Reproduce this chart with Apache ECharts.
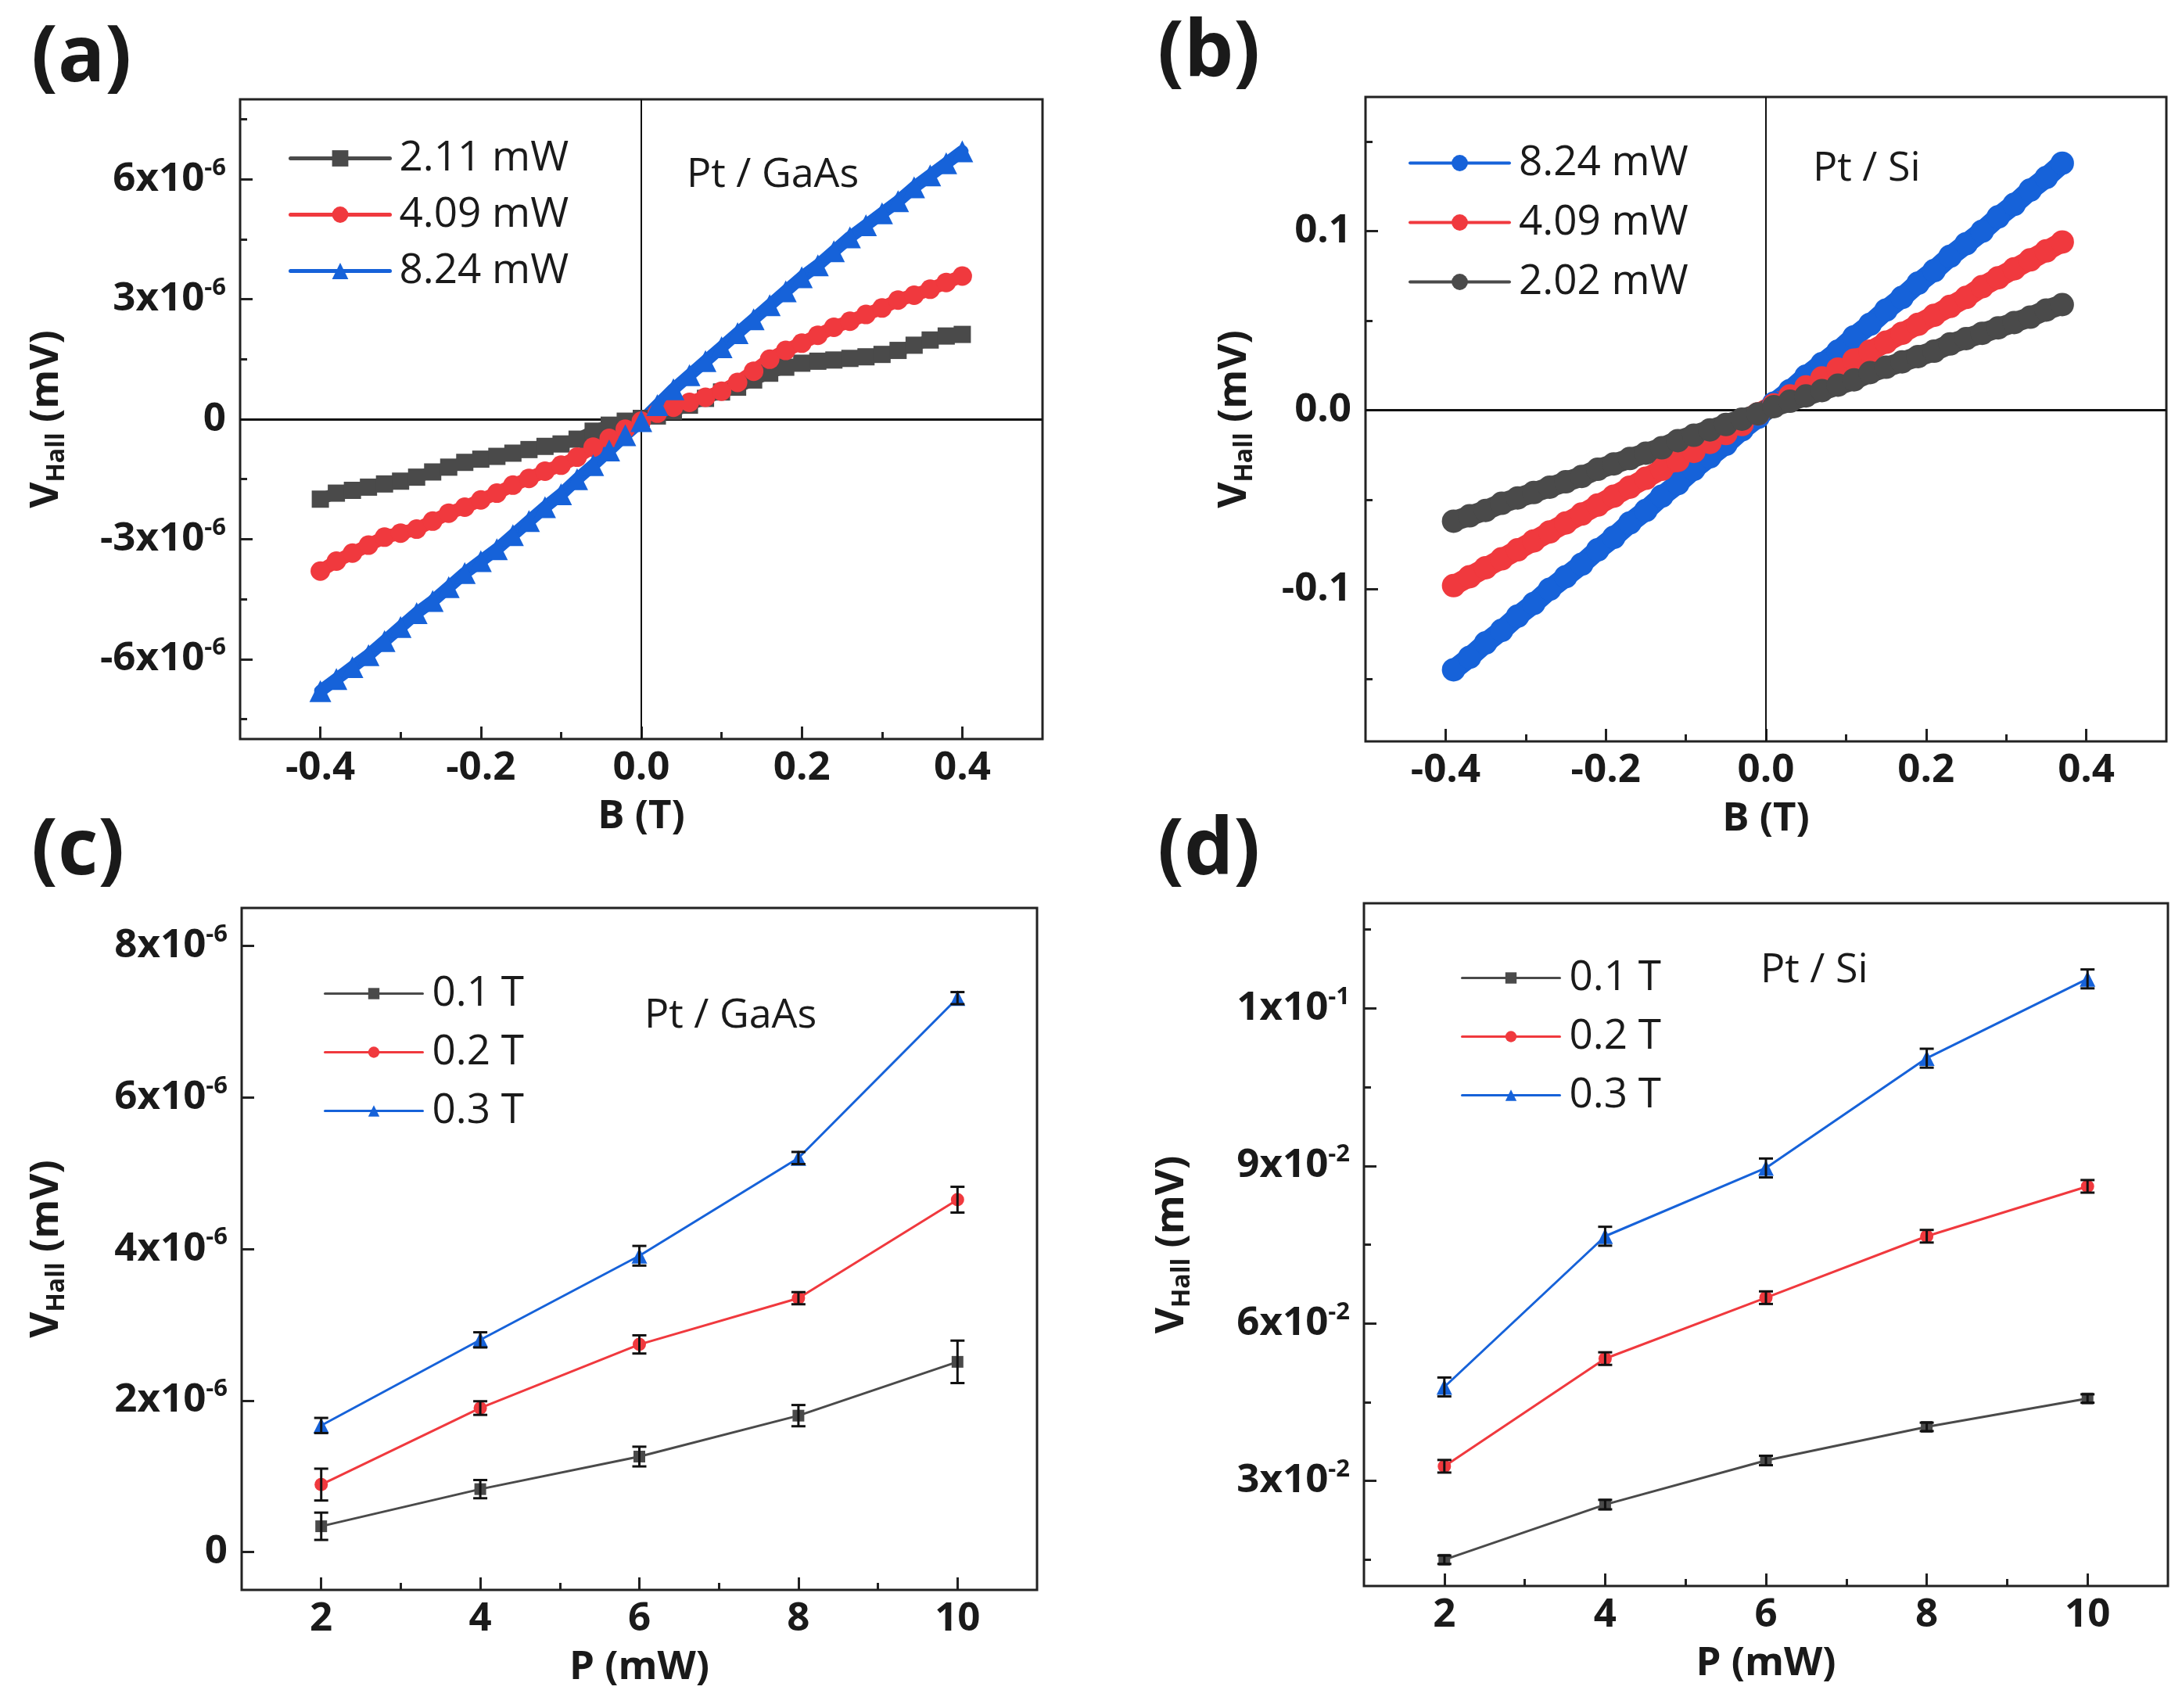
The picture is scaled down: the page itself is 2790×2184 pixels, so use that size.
<!DOCTYPE html>
<html>
<head>
<meta charset="utf-8">
<title>Hall voltage</title>
<script src="https://cdn.jsdelivr.net/npm/echarts@6/dist/echarts.min.js"></script>
<style>
  html, body { margin: 0; padding: 0; background: #fff; }
  #chart { width: 2790px; height: 2184px; }
</style>
</head>
<body>
<div id="chart"></div>
<script>
// ---- data ----
// (a) Pt / GaAs, V_Hall vs B, values in units of 1e-6 mV
const bFieldA = [-0.40, -0.38, -0.36, -0.34, -0.32, -0.30, -0.28, -0.26, -0.24, -0.22,
  -0.20, -0.18, -0.16, -0.14, -0.12, -0.10, -0.08, -0.06, -0.04, -0.02, 0.00,
  0.02, 0.04, 0.06, 0.08, 0.10, 0.12, 0.14, 0.16, 0.18, 0.20,
  0.22, 0.24, 0.26, 0.28, 0.30, 0.32, 0.34, 0.36, 0.38, 0.40];
const vA211 = [-2.00, -1.85, -1.78, -1.70, -1.62, -1.55, -1.45, -1.32, -1.20, -1.08,
  -1.00, -0.93, -0.85, -0.76, -0.68, -0.62, -0.50, -0.30, -0.15, -0.05, 0.02,
  0.08, 0.20, 0.35, 0.52, 0.68, 0.80, 0.98, 1.15, 1.30, 1.40,
  1.45, 1.48, 1.52, 1.56, 1.62, 1.72, 1.85, 1.98, 2.08, 2.12];
const vA409 = [-3.80, -3.55, -3.35, -3.15, -2.95, -2.85, -2.75, -2.55, -2.35, -2.20,
  -2.02, -1.85, -1.65, -1.48, -1.30, -1.15, -0.95, -0.70, -0.48, -0.25, -0.05,
  0.15, 0.30, 0.42, 0.55, 0.70, 0.92, 1.20, 1.50, 1.72, 1.90,
  2.10, 2.30, 2.45, 2.62, 2.78, 2.98, 3.10, 3.25, 3.42, 3.58];
const vA824 = [-6.80, -6.50, -6.20, -5.90, -5.55, -5.20, -4.85, -4.55, -4.20, -3.85,
  -3.55, -3.25, -2.90, -2.55, -2.20, -1.88, -1.50, -1.15, -0.78, -0.40, -0.05,
  0.35, 0.75, 1.10, 1.45, 1.80, 2.15, 2.50, 2.85, 3.20, 3.55,
  3.85, 4.20, 4.55, 4.85, 5.15, 5.45, 5.80, 6.10, 6.40, 6.70];

// (b) Pt / Si, V_Hall (mV) vs B
const bFieldB = [-0.39, -0.37, -0.35, -0.33, -0.31, -0.29, -0.27, -0.25, -0.23, -0.21,
  -0.19, -0.17, -0.15, -0.13, -0.11, -0.09, -0.07, -0.05, -0.03, -0.01,
  0.01, 0.03, 0.05, 0.07, 0.09, 0.11, 0.13, 0.15, 0.17, 0.19,
  0.21, 0.23, 0.25, 0.27, 0.29, 0.31, 0.33, 0.35, 0.37];
const vB824 = [-0.145, -0.138, -0.130, -0.123, -0.115, -0.108, -0.100, -0.093, -0.086, -0.078,
  -0.071, -0.063, -0.056, -0.048, -0.041, -0.033, -0.026, -0.019, -0.011, -0.004,
  0.004, 0.011, 0.019, 0.026, 0.033, 0.041, 0.048, 0.056, 0.063, 0.071,
  0.078, 0.086, 0.093, 0.100, 0.108, 0.115, 0.123, 0.130, 0.138];
const vB409 = [-0.098, -0.093, -0.088, -0.083, -0.078, -0.073, -0.068, -0.063, -0.058, -0.053,
  -0.048, -0.043, -0.038, -0.033, -0.028, -0.023, -0.018, -0.013, -0.008, -0.002,
  0.003, 0.008, 0.013, 0.018, 0.023, 0.028, 0.033, 0.038, 0.043, 0.048,
  0.053, 0.058, 0.063, 0.069, 0.074, 0.079, 0.084, 0.089, 0.094];
const vB202 = [-0.062, -0.059, -0.056, -0.052, -0.049, -0.046, -0.043, -0.040, -0.037, -0.033,
  -0.030, -0.027, -0.024, -0.021, -0.017, -0.014, -0.011, -0.008, -0.005, -0.002,
  0.002, 0.005, 0.008, 0.011, 0.014, 0.017, 0.021, 0.024, 0.027, 0.030,
  0.033, 0.037, 0.040, 0.043, 0.046, 0.049, 0.052, 0.056, 0.059];

// (c) Pt / GaAs, V_Hall vs P, units of 1e-6 mV
const powerP = [2, 4, 6, 8, 10];
const vC01 = [0.34, 0.83, 1.26, 1.80, 2.51];
const eC01 = [0.18, 0.12, 0.13, 0.14, 0.28];
const vC02 = [0.89, 1.90, 2.74, 3.35, 4.65];
const eC02 = [0.21, 0.09, 0.12, 0.08, 0.17];
const vC03 = [1.67, 2.80, 3.91, 5.20, 7.31];
const eC03 = [0.10, 0.10, 0.13, 0.08, 0.08];

// (d) Pt / Si, V_Hall (mV) vs P
const vD01 = [0.0150, 0.0255, 0.0339, 0.0403, 0.0457];
const eD01 = [0.0008, 0.0009, 0.0009, 0.0008, 0.0008];
const vD02 = [0.0328, 0.0533, 0.0649, 0.0766, 0.0861];
const eD02 = [0.0012, 0.0012, 0.0012, 0.0012, 0.0012];
const vD03 = [0.0479, 0.0766, 0.0896, 0.1105, 0.1256];
const eD03 = [0.0018, 0.0018, 0.0018, 0.0018, 0.0018];

// tick positions
const xTicksB = [-0.4, -0.2, 0, 0.2, 0.4];
const xMinorB = [-0.3, -0.1, 0.1, 0.3];
const yTicksA = [-6e-6, -3e-6, 0, 3e-6, 6e-6];
const yMinorA = [-7.5e-6, -4.5e-6, -1.5e-6, 1.5e-6, 4.5e-6, 7.5e-6];
const yTicksB = [-0.1, 0, 0.1];
const yMinorB = [-0.15, -0.05, 0.05, 0.15];
const xTicksP = [2, 4, 6, 8, 10];
const xMinorP = [3, 5, 7, 9];
const yTicksC = [0, 2e-6, 4e-6, 6e-6, 8e-6];
const yTicksD = [0.03, 0.06, 0.09, 0.12];
const yMinorD = [0.015, 0.045, 0.075, 0.105, 0.135];

// ---- styling ----
const FONT = "'Open Sans', 'DejaVu Sans', sans-serif";
const INK = '#1a1a1a';
const GRAY = '#4a4a4a', RED = '#f0393e', BLUE = '#1662d9';

const pairs = (xs, ys, k) => xs.map((x, i) => [x, ys[i] * (k || 1)]);
const triples = (xs, ys, es, k) => xs.map((x, i) => [x, ys[i] * (k || 1), es[i] * (k || 1)]);

// Origin-like "6x10^-6" labels
function sciLabel(v) {
  if (Math.abs(v) < 1e-12) return '{m|0}';
  const e = Math.floor(Math.log10(Math.abs(v)) + 1e-9);
  const m = Math.round(v / Math.pow(10, e));
  return '{m|' + m + 'x10}{s|' + e + '}';
}
const labelRich = {
  m: { fontSize: 51, fontWeight: 'bold', fontFamily: FONT, color: INK, lineHeight: 60 },
  s: { fontSize: 31, fontWeight: 'bold', fontFamily: FONT, color: INK, lineHeight: 26, verticalAlign: 'top' }
};

const grids = [
  { left: 307, top: 127, width: 1026, height: 818 },
  { left: 1746, top: 124, width: 1024, height: 824 },
  { left: 309, top: 1161, width: 1017, height: 872 },
  { left: 1744, top: 1155, width: 1028, height: 873 }
].map(g => Object.assign({ show: true, borderColor: '#222', borderWidth: 3, backgroundColor: 'transparent' }, g));

function mainAxis(pos, gi, min, max, ticks, fmt, name, nameGap, rich) {
  const ax = {
    type: 'value', gridIndex: gi, position: pos, min: min, max: max,
    axisLine: { show: false, onZero: false },
    splitLine: { show: false },
    axisTick: { show: true, inside: true, length: 16, customValues: ticks, lineStyle: { color: '#222', width: 3 } },
    axisLabel: {
      customValues: ticks, formatter: fmt, margin: pos === 'left' ? 18 : 12,
      fontSize: 51, fontWeight: 'bold', fontFamily: FONT, color: INK, rich: labelRich
    },
    name: name, nameLocation: 'middle', nameGap: nameGap,
    nameTextStyle: { fontSize: 51, fontWeight: 'bold', fontFamily: FONT, color: INK }
  };
  if (rich) {
    ax.nameRotate = 90;
    ax.nameTextStyle = {
      rich: {
        b: { fontSize: 51, fontWeight: 'bold', fontFamily: FONT, color: INK, lineHeight: 60 },
        s: { fontSize: 32, fontWeight: 'bold', fontFamily: FONT, color: INK, lineHeight: 30, verticalAlign: 'bottom' }
      }
    };
  }
  return ax;
}
function minorAxis(pos, gi, min, max, ticks) {
  return {
    type: 'value', gridIndex: gi, position: pos, min: min, max: max,
    axisLine: { show: false, onZero: false }, splitLine: { show: false }, axisLabel: { show: false },
    axisTick: { show: ticks.length > 0, inside: true, length: 9, customValues: ticks, lineStyle: { color: '#222', width: 3 } }
  };
}

const fix1 = v => (Math.abs(v) < 1e-9 ? '0.0' : v.toFixed(1));
const intLabel = v => String(v);
const vName = '{b|V}{s|Hall}{b| (mV)}';

const xAxes = [
  mainAxis('bottom', 0, -0.5, 0.5, xTicksB, fix1, 'B (T)', 74),
  mainAxis('bottom', 1, -0.5, 0.5, xTicksB, fix1, 'B (T)', 74),
  mainAxis('bottom', 2, 1, 11, xTicksP, intLabel, 'P (mW)', 74),
  mainAxis('bottom', 3, 1, 11, xTicksP, intLabel, 'P (mW)', 74),
  minorAxis('bottom', 0, -0.5, 0.5, xMinorB),
  minorAxis('bottom', 1, -0.5, 0.5, xMinorB),
  minorAxis('bottom', 2, 1, 11, xMinorP),
  minorAxis('bottom', 3, 1, 11, xMinorP)
];
const yAxes = [
  mainAxis('left', 0, -8e-6, 8e-6, yTicksA, sciLabel, vName, 218, true),
  mainAxis('left', 1, -0.185, 0.175, yTicksB, v => '{m|' + fix1(v) + '}', vName, 138, true),
  mainAxis('left', 2, -0.5e-6, 8.5e-6, yTicksC, sciLabel, vName, 220, true),
  mainAxis('left', 3, 0.01, 0.14, yTicksD, sciLabel, vName, 216, true),
  minorAxis('left', 0, -8e-6, 8e-6, yMinorA),
  minorAxis('left', 1, -0.185, 0.175, yMinorB),
  minorAxis('left', 2, -0.5e-6, 8.5e-6, []),
  minorAxis('left', 3, 0.01, 0.14, yMinorD)
];

function lineSeries(name, gi, data, color, symbol, size, width) {
  return {
    type: 'line', name: name, xAxisIndex: gi, yAxisIndex: gi, data: data,
    symbol: symbol, symbolSize: size, showSymbol: true, showAllSymbol: true,
    lineStyle: { color: color, width: width, cap: 'round', join: 'round' }, itemStyle: { color: color },
    emphasis: { disabled: true }, z: 3
  };
}
function errorSeries(gi, data) {
  return {
    type: 'custom', xAxisIndex: gi, yAxisIndex: gi, data: data, z: 4, silent: true,
    encode: { x: 0, y: 1 },
    renderItem: function (params, api) {
      const x = api.value(0), y = api.value(1), e = api.value(2);
      const hi = api.coord([x, y + e]);
      const lo = api.coord([x, y - e]);
      const half = 9;
      const st = { stroke: '#111', lineWidth: 3 };
      return {
        type: 'group', children: [
          { type: 'line', shape: { x1: hi[0], y1: hi[1], x2: lo[0], y2: lo[1] }, style: st },
          { type: 'line', shape: { x1: hi[0] - half, y1: hi[1], x2: hi[0] + half, y2: hi[1] }, style: st },
          { type: 'line', shape: { x1: lo[0] - half, y1: lo[1], x2: lo[0] + half, y2: lo[1] }, style: st }
        ]
      };
    }
  };
}
function zeroLines(gi) {
  return {
    type: 'line', xAxisIndex: gi, yAxisIndex: gi, data: [[0, 0]], showSymbol: false,
    lineStyle: { opacity: 0 }, silent: true, z: 1,
    markLine: {
      silent: true, symbol: ['none', 'none'], label: { show: false }, z: 1,
      lineStyle: { color: '#111', type: 'solid' },
      emphasis: { disabled: true },
      data: [
        { yAxis: 0, lineStyle: { width: 3, color: '#111', type: 'solid' } },
        { xAxis: 0, lineStyle: { width: 2, color: '#111', type: 'solid' } }
      ]
    }
  };
}

const series = [
  zeroLines(0),
  lineSeries('2.11 mW', 0, pairs(bFieldA, vA211, 1e-6), GRAY, 'rect', 22, 15),
  lineSeries('4.09 mW', 0, pairs(bFieldA, vA409, 1e-6), RED, 'circle', 25, 17),
  lineSeries('8.24 mW', 0, pairs(bFieldA, vA824, 1e-6), BLUE, 'triangle', 28, 16),
  zeroLines(1),
  lineSeries('8.24 mW ', 1, pairs(bFieldB, vB824), BLUE, 'circle', 30, 26),
  lineSeries('4.09 mW ', 1, pairs(bFieldB, vB409), RED, 'circle', 30, 26),
  lineSeries('2.02 mW', 1, pairs(bFieldB, vB202), GRAY, 'circle', 30, 26),
  lineSeries('0.1 T', 2, pairs(powerP, vC01, 1e-6), GRAY, 'rect', 15, 3),
  lineSeries('0.2 T', 2, pairs(powerP, vC02, 1e-6), RED, 'circle', 17, 3),
  lineSeries('0.3 T', 2, pairs(powerP, vC03, 1e-6), BLUE, 'triangle', 20, 3),
  errorSeries(2, triples(powerP, vC01, eC01, 1e-6)),
  errorSeries(2, triples(powerP, vC02, eC02, 1e-6)),
  errorSeries(2, triples(powerP, vC03, eC03, 1e-6)),
  lineSeries('0.1 T', 3, pairs(powerP, vD01), GRAY, 'rect', 15, 3),
  lineSeries('0.2 T', 3, pairs(powerP, vD02), RED, 'circle', 17, 3),
  lineSeries('0.3 T', 3, pairs(powerP, vD03), BLUE, 'triangle', 20, 3),
  errorSeries(3, triples(powerP, vD01, eD01)),
  errorSeries(3, triples(powerP, vD02, eD02)),
  errorSeries(3, triples(powerP, vD03, eD03))
];

function legendAt(names, left, top, w, h, gap, lw) {
  return {
    data: names, orient: 'vertical', left: left, top: top,
    itemWidth: w, itemHeight: h, itemGap: gap, selectedMode: false,
    lineStyle: { width: lw },
    textStyle: { fontSize: 53, fontFamily: FONT, color: INK, lineHeight: 52, padding: [0, 0, 0, 7] }
  };
}
const legends = [
  legendAt(['2.11 mW', '4.09 mW', '8.24 mW'], 364, 171, 127, 26, 19, 5),
  legendAt(['8.24 mW ', '4.09 mW ', '2.02 mW'], 1796, 177, 127, 26, 23, 4),
  legendAt(['0.1 T', '0.2 T', '0.3 T'], 409, 1239, 125, 18, 22, 3),
  legendAt(['0.1 T', '0.2 T', '0.3 T'], 1863, 1219, 125, 18, 22, 3)
];

function txt(text, left, top, font) {
  return { type: 'text', left: left, top: top, silent: true, style: { text: text, font: font, fill: INK } };
}
const big = "bold 100px 'Open Sans', sans-serif";
const mid = "52px 'Open Sans', sans-serif";
const graphics = [
  txt('(a)', 40, 26, big), txt('(b)', 1480, 20, big),
  txt('(c)', 40, 1040, big), txt('(d)', 1480, 1040, big),
  txt('Pt / GaAs', 878, 198, mid), txt('Pt / Si', 2318, 190, mid),
  txt('Pt / GaAs', 824, 1273, mid), txt('Pt / Si', 2251, 1215, mid)
];

const chart = echarts.init(document.getElementById('chart'));
chart.setOption({
  animation: false,
  backgroundColor: '#fff',
  grid: grids,
  xAxis: xAxes,
  yAxis: yAxes,
  legend: legends,
  graphic: graphics,
  series: series
});
</script>
</body>
</html>
